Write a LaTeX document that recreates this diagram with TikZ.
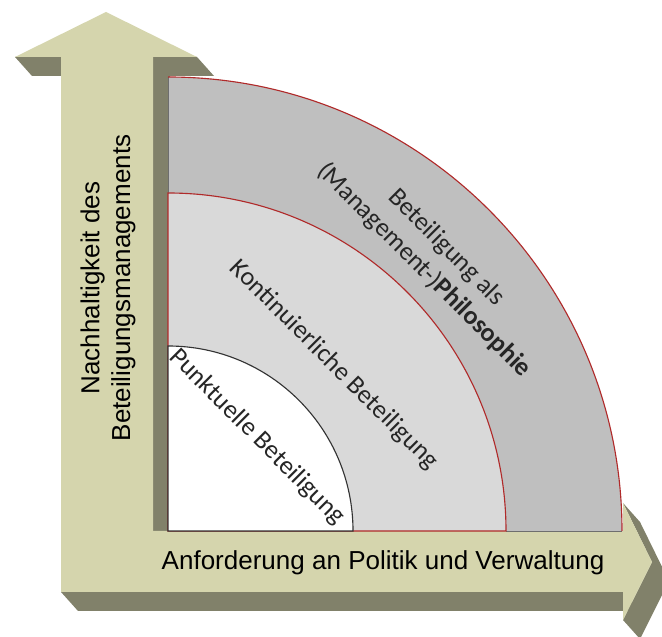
\documentclass[tikz,border=0pt]{standalone}
\usepackage{fontspec}
\setmainfont{Liberation Sans}
\newfontfamily\ringfont{Carlito}
\definecolor{axlight}{HTML}{D5D5AD}
\definecolor{axdark}{HTML}{81816A}
\definecolor{ringout}{HTML}{BFBFBF}
\definecolor{ringmid}{HTML}{D9D9D9}
\definecolor{ringred}{HTML}{B02A2A}
\definecolor{ringline}{HTML}{6E6E6E}
\definecolor{ringtxt}{HTML}{262626}
\tikzset{
  axface/.style   = {fill=axlight},
  axside/.style   = {fill=axdark},
  ringedge/.style = {draw=ringred, line width=0.8pt},
  greyedge/.style = {draw=ringline, line width=0.6pt},
  axlbl/.style    = {font=\fontsize{18.5}{22}\selectfont, text=black,
                     align=center, inner sep=0pt},
  ringlbl/.style  = {font=\ringfont\fontsize{18.5}{22.7}\selectfont,
                     text=ringtxt, align=center, rotate=-45, inner sep=0pt},
}
\begin{document}
\begin{tikzpicture}[x=0.025cm, y=0.025cm]
  \useasboundingbox (0,0) rectangle (662,636);
  \clip (0,0) rectangle (662,636);

  % ---------- vertical axis arrow -----------------------------------------
  \fill[axside] (61,44) -- (78,25) -- (170,25) -- (170,560) -- (214,560) --
      (197,579) -- (153,579) -- (153,44) -- cycle;
  \fill[axside] (15,579) -- (61,579) -- (78,560) -- (32,560) -- cycle;
  \fill[axface] (61,44) -- (61,579) -- (15,579) -- (106,624) -- (197,579) --
      (153,579) -- (153,44) -- cycle;

  % ---------- horizontal axis arrow ---------------------------------------
  \fill[axside] (153,44) -- (623,44) -- (640,25) -- (170,25) -- cycle;
  \fill[axside] (623,133) -- (652,74) -- (623,16) -- (640,-3) -- (669,55) --
      (640,114) -- cycle;
  \fill[axface] (140,105) -- (623,105) -- (623,133) -- (652,74) -- (623,16) --
      (623,44) -- (140,44) -- cycle;

  % ---------- quarter rings -----------------------------------------------
  \fill[ringout] (168,105) -- (622,105) arc[start angle=0, end angle=90,
      radius=454] -- cycle;
  \draw[greyedge] (168,443) -- (168,559);
  \draw[greyedge] (506,105) -- (622,105);
  \draw[ringedge] (622,105) arc[start angle=0, end angle=90, radius=454];
  \filldraw[ringedge, fill=ringmid] (168,105) -- (506,105)
      arc[start angle=0, end angle=90, radius=338] -- cycle;
  \filldraw[draw=black!80, fill=white, line width=0.8pt] (168,105) -- (353,105)
      arc[start angle=0, end angle=90, radius=185] -- cycle;

  % ---------- labels ------------------------------------------------------
  \node[axlbl, rotate=90] (vlbl) at (108,348)
      {Nachhaltigkeit des\\Beteiligungsmanagements};
  \node[axlbl, anchor=base] (hlbl) at (383,66)
      {Anforderung an Politik und Verwaltung};
  \node[ringlbl] (punkt) at (257,199) {Punktuelle Beteiligung};
  \node[ringlbl] (kont) at (334,271) {Kontinuierliche Beteiligung};
  \node[ringlbl] (philo) at (435,377)
      {Beteiligung als\\(Management-)\textbf{Philosophie}};

\end{tikzpicture}
\end{document}
